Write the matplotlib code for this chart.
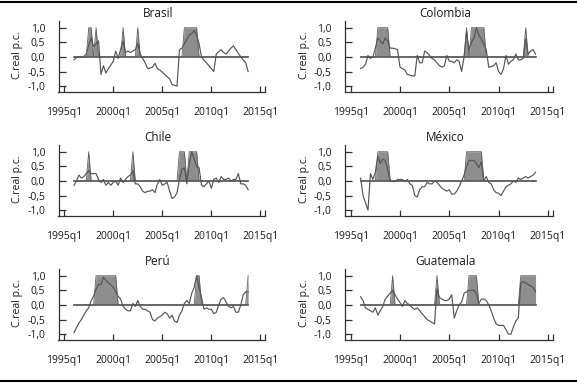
import numpy as np
import matplotlib
matplotlib.use("Agg")
import matplotlib.pyplot as plt

# ---------------- data (quarterly, 1996q1 .. 2013q4) ----------------
start_year = 1996
countries = ["Brasil", "Colombia", "Chile", "México", "Perú", "Guatemala"]

brasil = [-0.10, -0.02, 0.00, -0.02, 0.02, 0.10, 0.40, 0.65, 0.35, 0.45, 0.55, -0.60,
          -0.30, -0.55, -0.40, -0.28, -0.15, 0.20, -0.05, 0.25, 0.55, 0.15, 0.20, 0.15,
          0.20, 0.25, 0.45, 0.10, -0.05, -0.20, -0.40, -0.38, -0.35, -0.22, -0.40, -0.45,
          -0.52, -0.60, -0.68, -0.75, -0.95, -0.97, -1.00, 0.25, 0.30, 0.45, 0.60, 0.75,
          0.80, 0.90, 0.75, 0.45, 0.00, -0.12, -0.20, -0.30, -0.40, -0.50, 0.10, 0.18,
          0.25, 0.15, 0.10, 0.20, 0.30, 0.38, 0.25, 0.12, 0.00, -0.10, -0.20, -0.50]
colombia = [-0.40, -0.35, -0.25, 0.05, -0.05, 0.00, 0.30, 0.65, 0.55, 0.45, 0.65, 0.55,
            0.30, 0.30, 0.28, 0.25, -0.35, -0.40, -0.45, -0.60, -0.62, -0.65, -0.65, 0.05,
            -0.20, -0.20, 0.20, 0.15, 0.05, -0.05, -0.10, -0.20, -0.30, -0.35, -0.30, 0.05,
            -0.15, -0.15, -0.20, -0.10, -0.15, -0.50, 0.00, 0.85, 0.25, 0.50, 0.65, 1.00,
            0.75, 0.60, 0.45, 0.25, -0.35, -0.33, -0.30, -0.20, -0.50, -0.60, -0.40, 0.05,
            -0.25, -0.15, -0.10, 0.10, -0.10, -0.10, -0.05, 0.60, 0.10, 0.20, 0.25, 0.10]
chile = [-0.15, 0.00, 0.20, 0.10, 0.15, 0.25, 0.35, 0.25, 0.25, 0.25, 0.05, -0.05,
         0.05, -0.15, -0.05, -0.15, -0.05, 0.00, -0.15, 0.10, -0.05, 0.05, 0.15, 0.20,
         0.35, -0.10, -0.10, -0.20, -0.35, -0.40, -0.35, -0.35, -0.30, -0.40, -0.10, 0.05,
         -0.15, -0.10, -0.05, -0.35, -0.60, -0.55, -0.40, 0.05, 0.40, 0.45, -0.10, 0.60,
         1.00, 0.75, 0.50, 0.45, -0.15, -0.20, -0.10, 0.00, -0.25, 0.05, 0.10, -0.05,
         0.15, 0.05, 0.05, 0.10, 0.00, 0.05, 0.05, 0.25, -0.10, -0.10, -0.15, -0.30]
mexico = [0.10, -0.50, -0.75, -1.00, 0.25, 0.05, 0.30, 0.85, 0.60, 0.75, 0.70, 0.40,
          0.00, -0.02, -0.02, 0.05, 0.05, 0.05, -0.02, 0.05, -0.10, -0.15, -0.50, -0.55,
          -0.30, -0.20, -0.20, -0.05, -0.10, -0.10, 0.00, -0.05, -0.15, -0.25, -0.30, -0.35,
          -0.30, -0.45, -0.45, -0.35, -0.20, 0.00, 0.20, 0.50, 0.70, 0.70, 0.70, 0.60,
          0.45, 0.65, 0.00, 0.15, -0.05, -0.10, -0.30, -0.40, -0.42, -0.50, -0.35, -0.20,
          -0.15, -0.10, 0.00, -0.05, 0.10, 0.05, 0.10, 0.15, 0.10, 0.15, 0.20, 0.30]
peru = [-0.95, -0.78, -0.62, -0.50, -0.35, -0.20, -0.10, 0.15, 0.30, 0.55, 0.70, 0.70,
        0.95, 0.85, 0.75, 0.70, 0.60, 0.45, 0.30, 0.20, -0.05, -0.15, -0.20, -0.20,
        0.05, -0.05, 0.15, -0.05, -0.15, -0.15, -0.20, -0.25, -0.50, -0.55, -0.45, -0.40,
        -0.35, -0.25, -0.30, -0.45, -0.35, -0.55, -0.60, -0.35, -0.20, 0.05, 0.15, 0.05,
        0.40, 0.60, 1.00, 0.60, 0.25, -0.15, -0.10, -0.15, -0.15, -0.30, -0.25, 0.00,
        0.20, 0.25, 0.10, -0.05, -0.10, -0.05, -0.25, -0.25, 0.00, 0.35, 0.45, 0.45]
guatemala = [0.28, 0.15, -0.10, -0.15, -0.20, -0.25, -0.10, -0.35, -0.20, -0.05, 0.20, 0.30,
             0.40, 0.50, 0.35, 0.20, 0.08, -0.05, 0.15, 0.05, 0.00, -0.10, -0.15, -0.10,
             -0.20, -0.30, -0.40, -0.50, -0.55, -0.60, -0.65, 0.55, 0.25, 0.20, 0.15, 0.15,
             0.20, 0.35, -0.45, -0.20, 0.00, 0.10, 0.40, 0.45, 0.50, 0.50, 0.50, 0.40,
             0.05, 0.20, 0.20, 0.15, 0.00, -0.20, -0.45, -0.65, -0.70, -0.70, -0.70, -0.85,
             -1.00, -1.00, -0.75, -0.55, -0.45, 0.75, 0.80, 0.75, 0.70, 0.65, 0.60, 0.45]

# quarters (index from 1996q1) flagged as episodes (shaded, value 1)
brasil_episodes = [6, 7, 9, 20, 26, 45, 46, 47, 48, 49, 50]
colombia_episodes = [7, 8, 9, 10, 11, 43, 45, 46, 47, 48, 49, 50, 67]
chile_episodes = [6, 24, 43, 44, 45, 47, 48, 49, 50]
mexico_episodes = [7, 8, 9, 10, 11, 43, 44, 45, 46, 47, 48, 49]
peru_episodes = [9, 10, 11, 12, 13, 14, 15, 16, 17, 50, 51, 71]
guatemala_episodes = [13, 31, 44, 45, 46, 47, 65, 66, 67, 68, 69, 70, 71]

series = [brasil, colombia, chile, mexico, peru, guatemala]
episodes = [brasil_episodes, colombia_episodes, chile_episodes,
            mexico_episodes, peru_episodes, guatemala_episodes]

ytick_vals = [-1.0, -0.5, 0.0, 0.5, 1.0]
ytick_labels = ["-1,0", "-0,5", "0,0", "0,5", "1,0"]
xtick_years = [1995, 2000, 2005, 2010, 2015]
xtick_labels = ["1995q1", "2000q1", "2005q1", "2010q1", "2015q1"]
ylabel = "C.real p.c."

# ---------------- layout ----------------
W, H = 577, 383
fig = plt.figure(figsize=(W / 100, H / 100), dpi=100)
plt.rcParams['font.family'] = ['Open Sans', 'DejaVu Sans']

col_x = [(58.5, 265.5), (345.0, 553.0)]
row_top = [21.0, 145.0, 269.0]
ax_h = 71.0
xlim = (1994.42, 2015.52)
ylim = (-1.2, 1.23)

line_col = "#555555"
fill_col = "#8e8e8e"
edge_col = "#606060"
axis_col = "#303030"

for k, (name, vals, eps) in enumerate(zip(countries, series, episodes)):
    r, c = divmod(k, 2)
    x0, x1 = col_x[c]
    top = row_top[r]
    ax = fig.add_axes([x0 / W, 1 - (top + ax_h) / H, (x1 - x0) / W, ax_h / H])
    n = len(vals)
    t = start_year + np.arange(n) / 4.0
    ind = np.zeros(n)
    ind[eps] = 1.0
    ax.fill_between(t, 0, ind, color=fill_col, lw=0, zorder=1)
    ax.plot(t, ind, color=edge_col, lw=0.6, zorder=1.5)
    ax.plot([t[0], t[-1]], [0, 0], color="#5a5a5a", lw=1.2, zorder=2)
    ax.plot(t, vals, color=line_col, lw=0.85, zorder=3)

    ax.set_xlim(*xlim)
    ax.set_ylim(*ylim)
    for s in ["top", "right"]:
        ax.spines[s].set_visible(False)
    for s in ["left", "bottom"]:
        ax.spines[s].set_color(axis_col)
        ax.spines[s].set_linewidth(0.9)
    ax.set_yticks(ytick_vals)
    ax.set_yticklabels(ytick_labels)
    ax.set_xticks(xtick_years + [xlim[1] - 0.02])
    ax.set_xticklabels(xtick_labels + [""])
    ax.tick_params(axis="y", direction="in", length=5, width=0.9, color=axis_col,
                   labelsize=7.5, pad=9.5, labelcolor="#1a1a1a")
    ax.tick_params(axis="x", direction="in", length=4, width=0.9, color=axis_col,
                   labelsize=7.5, pad=10.5, labelcolor="#1a1a1a")
    ax.patch.set_alpha(0)

    cx = (x0 + x1) / 2 - 4
    fig.text(cx / W, 1 - (top - 7.5) / H, name, ha="center", va="center",
             fontsize=8.5, color="#1a1a1a")
    fig.text((x0 - 41) / W, 1 - (top + ax_h / 2 - 1) / H, ylabel, rotation=90,
             ha="center", va="center", fontsize=7.5, color="#1a1a1a")

# top and bottom rules
fig.add_artist(plt.Line2D([0, 1], [1 - 1.5 / H, 1 - 1.5 / H], color="black", lw=1.5))
fig.add_artist(plt.Line2D([0, 1], [1 - 380.5 / H, 1 - 380.5 / H], color="black", lw=1.5))

fig.savefig("out.png", dpi=100)
